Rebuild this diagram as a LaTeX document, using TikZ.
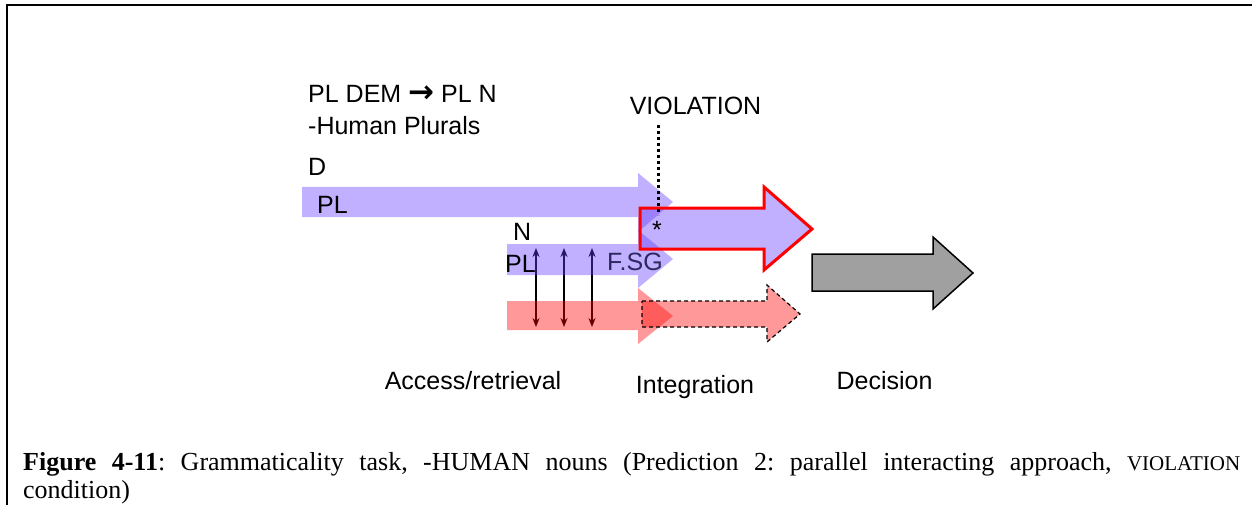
\documentclass[tikz,border=0pt]{standalone}
\usepackage{fontspec}
\setmainfont{Liberation Sans}
\newfontfamily\capfont{Liberation Serif}
\newfontfamily\arrowfont{DejaVu Sans}
\usetikzlibrary{arrows.meta}
\definecolor{vio}{RGB}{100,55,255}
\definecolor{grayarrow}{RGB}{160,160,160}
\definecolor{fsg}{RGB}{45,40,95}
\tikzset{
  x=1pt, y=-1pt,
  lbl/.style={inner sep=0pt, font=\fontsize{25}{30}\selectfont},
  viofill/.style={fill=vio, fill opacity=0.4, draw=none},
  redfill/.style={fill=red, fill opacity=0.4, draw=none},
  violation/.style={fill=vio, fill opacity=0.4, draw=red, line width=3pt, line join=miter},
  dashedarrow/.style={fill=red, fill opacity=0.4, draw=black, line width=1.2pt, dashed, dash pattern=on 4pt off 3pt},
  decarrow/.style={fill=grayarrow, draw=black, line width=1.5pt},
  link/.style={line width=2pt, {Stealth[length=9pt,width=7pt]}-{Stealth[length=9pt,width=7pt]}},
}
\frenchspacing
\begin{document}
\begin{tikzpicture}
\useasboundingbox (0,0) rectangle (1252,505);
% frame
\draw[line width=2pt] (7,505) -- (7,5) -- (1252,5);

% vertical interaction arrows
\foreach \i/\x in {1/536,2/564,3/592}{
  \coordinate (up\i) at (\x,248);
  \coordinate (dn\i) at (\x,327);
  \draw[link] (dn\i) -- (up\i);
}

% D arrow (PL)
\fill[viofill] (302,187) -- (638,187) -- (638,173) -- (673,202) -- (638,232) -- (638,217) -- (302,217) -- cycle;
% N arrow
\fill[viofill] (507,244) -- (638,244) -- (638,230) -- (673,259) -- (638,288) -- (638,275) -- (507,275) -- cycle;
% red solid arrow
\fill[redfill] (507,301) -- (638,301) -- (638,288) -- (673,316) -- (638,344) -- (638,330) -- (507,330) -- cycle;
% dashed integration arrow
\filldraw[dashedarrow] (642,301) -- (767,301) -- (767,285) -- (800,314) -- (767,342) -- (767,327) -- (642,327) -- cycle;
% violation integration arrow
\filldraw[violation] (640,208) -- (764,208) -- (764,187) -- (812,229) -- (764,270) -- (764,249) -- (640,249) -- cycle;
% decision arrow
\filldraw[decarrow] (812,254) -- (933,254) -- (933,237) -- (973,273) -- (933,309) -- (933,291) -- (812,291) -- cycle;

% labels
\node[lbl, anchor=base west] (title1) at (308,103) {PL DEM {\arrowfont\bfseries\fontsize{31}{30}\selectfont →} PL N};
\node[lbl, anchor=base west] (title2) at (308,135) {-Human Plurals};
\node[lbl, anchor=base west] (dlab) at (308,176) {D};
\node[lbl, anchor=base west] (dpl) at (317,214) {PL};
\node[lbl, anchor=base west] (nlab) at (513,240) {N};
\node[lbl, anchor=base west] (npl) at (505,272) {PL};
\node[lbl, anchor=base west, text=fsg] (fsg) at (607,270) {F.SG};
\node[lbl, anchor=base] (viol) at (695.5,115) {VIOLATION};
\coordinate (dottop) at (658,125);
\coordinate (dotbot) at (658,215);
\draw[line width=3pt, dash pattern=on 3pt off 3pt] (dottop) -- (dotbot);
\node[lbl, anchor=center] (star) at (657,230) {*};

\node[lbl, anchor=base] (acc) at (473,389) {Access/retrieval};
\node[lbl, anchor=base] (integ) at (695,393) {Integration};
\node[lbl, anchor=base] (dec) at (884.5,389) {Decision};

% caption
\node[anchor=base west, inner sep=0pt, text width=1217pt, align=justify,
      font=\capfont\fontsize{26}{28}\selectfont] (cap) at (23,470)
  {\textbf{Figure 4-11}: Grammaticality task, -HUMAN nouns (Prediction 2: parallel interacting approach, {\fontsize{21}{28}\selectfont VIOLATION}\linebreak condition)};
\end{tikzpicture}
\end{document}
